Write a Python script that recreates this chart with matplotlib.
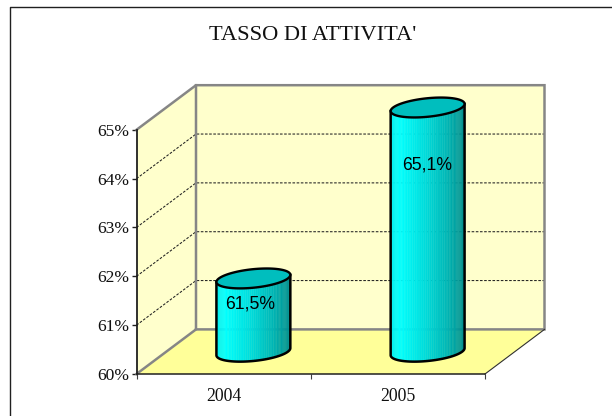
import numpy as np
import matplotlib
matplotlib.use("Agg")
import matplotlib.pyplot as plt
from matplotlib.colors import LinearSegmentedColormap
from matplotlib.patches import Polygon
from matplotlib.lines import Line2D

title = "TASSO DI ATTIVITA'"
categories = ["2004", "2005"]
values = [61.5, 65.1]
value_labels = ["61,5%", "65,1%"]
y_ticks = [60, 61, 62, 63, 64, 65]
y_tick_labels = ["60%", "61%", "62%", "63%", "64%", "65%"]

W, H = 612, 416
L, R, B, T = 136.5, 485.0, 374.0, 129.8
DX_PX, DY_PX = 59.5, 44.6
ymin, ymax = y_ticks[0], y_ticks[-1]
SERIF = "Liberation Serif"
SANS = "Liberation Sans"

fig = plt.figure(figsize=(W / 100, H / 100), dpi=100, facecolor="white")
fig.add_artist(Line2D([9.5 / W, 9.5 / W, 1.01], [-0.01, 1 - 6.5 / H, 1 - 6.5 / H],
                      transform=fig.transFigure, color="#202020", lw=1.0))
ax = fig.add_axes([L / W, 1 - B / H, (R - L) / W, (B - T) / H])
ax.set_xlim(0, len(categories))
ax.set_ylim(ymin, ymax)
ax.patch.set_visible(False)

sx = (R - L) / len(categories)          # pixels per category
sy = (B - T) / (ymax - ymin)            # pixels per y unit
ddx, ddy = DX_PX / sx, DY_PX / sy       # depth vector in data units


def proj(x, y, d=0.0):
    return np.asarray(x) + d * ddx, np.asarray(y) + d * ddy


def poly(pts, **kw):
    p = Polygon(np.column_stack(pts), closed=True, clip_on=False, **kw)
    ax.add_patch(p)
    return p


n = len(categories)


def quad(*c):
    return np.array([proj(*k) for k in c]).T


wall, floor = "#FFFFCC", "#FFFF99"
poly(quad((0, ymin, 0), (0, ymax, 0), (0, ymax, 1), (0, ymin, 1)), fc=wall, ec="none", zorder=1)
poly(quad((0, ymin, 1), (0, ymax, 1), (n, ymax, 1), (n, ymin, 1)), fc=wall, ec="none", zorder=1)
poly(quad((0, ymin, 0), (n, ymin, 0), (n, ymin, 1), (0, ymin, 1)), fc=floor, ec="none", zorder=1)

grid = dict(color="#202020", lw=0.75, ls=(0, (2.5, 1.5)), clip_on=False, zorder=2)
for v in y_ticks[1:-1]:
    ax.plot(*quad((0, v, 0), (0, v, 1), (n, v, 1)), **grid)

gray = dict(color="#868686", lw=1.8, clip_on=False, zorder=3, solid_joinstyle="miter")
ax.plot(*quad((0, ymax, 0), (0, ymax, 1), (n, ymax, 1), (n, ymin, 1), (0, ymin, 1)), **gray)
ax.plot(*quad((0, ymin, 0), (0, ymin, 1), (0, ymax, 1)), **gray)
ax.plot(*quad((n, ymin, 0), (n, ymin, 1)), color="#303030", lw=0.8, clip_on=False, zorder=3)

cmap = LinearSegmentedColormap.from_list(
    "cyl", [(0, "#00F0F0"), (0.12, "#00FFFF"), (0.45, "#00DDDD"), (0.75, "#00B8B8"), (1, "#008C8C")])
A = 34.5 / sx       # ellipse half width along x
K = 0.223           # ellipse radius along depth


def ellipse(xc, y, t):
    return (xc + A * np.cos(t) + K * ddx * np.sin(t), y + K * ddy * np.sin(t))


for i, val in enumerate(values):
    xc = i + 0.5 + 0.5 * ddx
    y0 = ymin + 0.5 * ddy
    y1 = min(val, ymax) + 0.5 * ddy      # the column is cut off at the axis maximum
    t_edge = np.arctan2(K * DX_PX, 34.5) # angle of the right-most point
    ts = np.linspace(t_edge, t_edge - np.pi, 61)
    ex, _ = ellipse(xc, 0, ts)
    for j in range(60):
        tm = ts[[j, j + 1]]
        xb, yb = ellipse(xc, y0, tm)
        xt, yt = ellipse(xc, y1, tm)
        u = (0.5 * (xb[0] + xb[1]) - ex.min()) / (ex.max() - ex.min())
        poly((np.r_[xb, xt[::-1]], np.r_[yb, yt[::-1]]), fc=cmap(u), ec=cmap(u), lw=0.3, zorder=4)
    tt = np.linspace(0, 2 * np.pi, 121)
    poly(ellipse(xc, y1, tt), fc="#00BEBE", ec="black", lw=1.7, zorder=6)
    xb, yb = ellipse(xc, y0, ts)
    xt, yt = ellipse(xc, y1, ts)
    ax.plot(np.r_[xt[0], xb, xt[-1]], np.r_[yt[0], yb, yt[-1]], color="black", lw=1.8,
            clip_on=False, zorder=5, solid_joinstyle="round")
    drop = [25.5, 58.0][i] / sy
    shift = [-3.5, -0.5][i] / sx
    ax.text(xc + shift, y1 - drop, value_labels[i], family=SANS, fontsize=12.7,
            ha="center", va="center", color="black", zorder=7)

ax.set_yticks(y_ticks)
ax.set_yticklabels(y_tick_labels, family=SERIF, fontsize=12.6, color="#101010")
ax.set_xticks(range(n + 1))
ax.set_xticklabels([""] * (n + 1))
ax.set_xticks(np.arange(n) + 0.5, minor=True)
ax.set_xticklabels(categories, minor=True, family=SERIF, fontsize=12.8, color="#101010")
ax.tick_params(axis="y", length=3.6, width=1.0, pad=1.5, color="#202020")
ax.tick_params(axis="x", which="major", length=3.6, width=0.8, color="#404040")
ax.tick_params(axis="x", which="minor", length=0, pad=10)
for s in ("top", "right"):
    ax.spines[s].set_visible(False)
ax.spines["left"].set_linewidth(1.3)
ax.spines["left"].set_color("#202020")
ax.spines["bottom"].set_linewidth(1.1)
ax.spines["bottom"].set_color("#202020")
for s in ax.spines.values():
    s.set_zorder(8)

fig.text(312.5 / W, 1 - 35.5 / H, title, family=SERIF, fontsize=16.2, ha="center", va="center", color="#101010")
fig.savefig("out.png", dpi=100)
